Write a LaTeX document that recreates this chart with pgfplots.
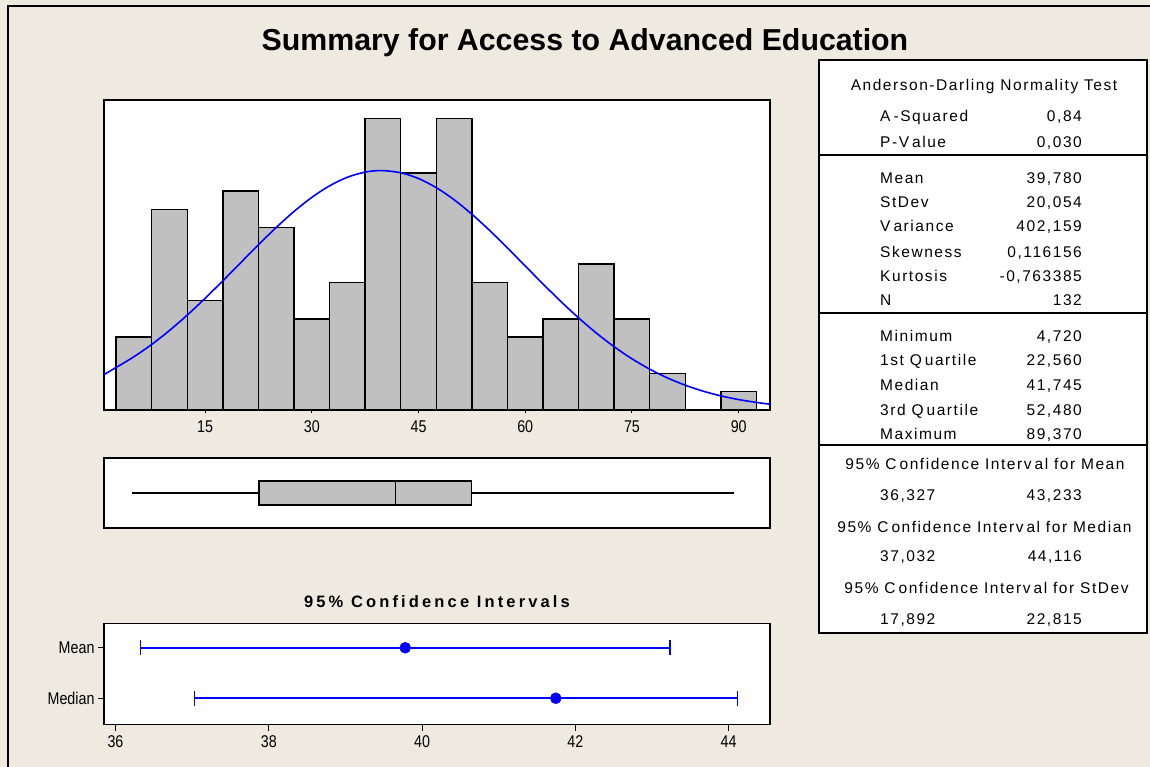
\documentclass[border=0pt]{standalone}
\usepackage{pgfplots}
\pgfplotsset{compat=1.18}
\usepackage{pgfplotstable}
\usepgfplotslibrary{statistics}
\usepackage{fontspec}
\setmainfont{Liberation Sans}
\newfontfamily\narrowfont[FakeStretch=0.84]{Liberation Sans}
\newfontfamily\spacedfont[LetterSpace=10]{Liberation Sans}
\newfontfamily\widefont[LetterSpace=19]{Liberation Sans}
\definecolor{bgbeige}{RGB}{238,234,224}
\definecolor{bargray}{RGB}{192,192,192}
\pgfdeclareplotmark{bigbar}{%
  \pgfpathmoveto{\pgfqpoint{0pt}{-7.5pt}}%
  \pgfpathlineto{\pgfqpoint{0pt}{7.5pt}}%
  \pgfusepathqstroke}

\pgfplotstableread{
x count
5 4
10 11
15 6
20 12
25 10
30 5
35 7
40 16
45 13
50 16
55 7
60 4
65 5
70 8
75 5
80 2
90 1
}\histdata

\pgfplotstableread{
x f
0.8 1.94
2.5 2.332
5 2.919
7.5 3.595
10 4.359
12.5 5.205
15 6.120
17.5 7.084
20 8.072
22.5 9.058
25 10.008
27.5 10.885
30 11.658
32.5 12.292
35 12.762
37.5 13.045
39.78 13.13
42.5 13.01
45 12.693
47.5 12.193
50 11.531
52.5 10.736
55 9.845
57.5 8.886
60 7.898
62.5 6.912
65 5.955
67.5 5.051
70 4.219
72.5 3.469
75 2.808
77.5 2.239
80 1.757
82.5 1.358
85 1.033
87.5 0.774
90 0.571
92.5 0.415
94.4 0.318
}\curvedata

\begin{document}
\begin{tikzpicture}
\useasboundingbox (0pt,0pt) rectangle (1150pt,-767pt);
\fill[bgbeige] (0pt,0pt) rectangle (1150pt,-767pt);
\draw[line width=2pt] (7.5pt,-767pt) -- (7.5pt,-6pt) -- (1150pt,-6pt);

\node[font=\fontsize{30.3}{30.3}\selectfont\bfseries] at (585pt,-43pt) {Summary for Access to Advanced Education};

% Histogram
\begin{axis}[at={(104pt,-410pt)}, anchor=south west, scale only axis,
  width=666pt, height=310pt,
  xmin=0.8, xmax=94.4, ymin=0, ymax=17,
  axis background/.style={fill=white},
  axis line style={line width=1.4pt},
  xtick={15,30,45,60,75,90}, ytick=\empty,
  xtick pos=left, tick align=outside, major tick length=3pt,
  tick style={line width=1pt, black},
  /pgf/number format/assume math mode=true,
  ticklabel style={font=\narrowfont\fontsize{17}{17}\selectfont},
  xticklabel style={yshift=-4pt}]
\addplot[ybar, bar width=5, bar shift=0pt, fill=bargray, draw=black, line width=1.4pt]
  table[x=x, y=count] {\histdata};
\addplot[blue, line width=1.6pt, smooth, no marks] table[x=x, y=f] {\curvedata};
\end{axis}

% Boxplot
\begin{axis}[at={(104pt,-528pt)}, anchor=south west, scale only axis,
  width=666pt, height=70pt,
  xmin=0.8, xmax=94.4, ymin=0, ymax=2,
  axis background/.style={fill=white},
  axis line style={line width=1.4pt},
  ticks=none]
\addplot[boxplot prepared={lower whisker=4.72, lower quartile=22.56, median=41.745,
  upper quartile=52.48, upper whisker=89.37, draw position=1, box extend=0.69,
  whisker extend=0}, draw=black, fill=bargray, line width=1.4pt, solid] coordinates {};
\end{axis}

% Confidence intervals
\begin{axis}[at={(104pt,-724.5pt)}, anchor=south west, scale only axis,
  width=666pt, height=101pt,
  xmin=35.85, xmax=44.54, ymin=-0.52, ymax=1.48,
  axis background/.style={fill=white},
  axis line style={line width=1.4pt},
  xtick={36,38,40,42,44}, ytick={0,1}, yticklabels={Median,Mean},
  xtick pos=left, ytick pos=left, tick align=outside, major tick length=6pt,
  tick style={line width=1pt, black},
  /pgf/number format/assume math mode=true,
  ticklabel style={font=\narrowfont\fontsize{17}{17}\selectfont},
  xticklabel style={yshift=-2pt},
  title={95\% Confidence Intervals},
  title style={at={(0.5,1)}, anchor=base, yshift=10pt,
    font=\widefont\fontsize{16.5}{16.5}\selectfont\bfseries}]
\addplot[blue, line width=1.6pt, only marks, mark=*, mark size=5.5pt,
  mark options={line width=0.5pt},
  error bars/.cd, x dir=both, x explicit, error mark=bigbar,
  error bar style={line width=1.6pt, blue},
  error mark options={blue, line width=1.6pt}]
  coordinates {(39.78,1) -= (3.453,0) += (3.453,0)
               (41.745,0) -= (4.713,0) += (2.371,0)};
\end{axis}

% Statistics table
\draw[line width=1.4pt, fill=white] (819pt,-60pt) rectangle (1147pt,-633pt);
\draw[line width=1.4pt] (819pt,-155pt) -- (1147pt,-155pt);
\draw[line width=1.4pt] (819pt,-313pt) -- (1147pt,-313pt);
\draw[line width=1.4pt] (819pt,-445pt) -- (1147pt,-445pt);
\begin{scope}[every node/.style={font=\spacedfont\fontsize{15.5}{15.5}\selectfont, inner sep=0pt}]
\node[anchor=base] at (984pt,-91pt) {Anderson-Darling Normality Test};
\node[anchor=base west] at (880pt,-121.5pt) {A\kern3pt-Squared};
\node[anchor=base east] at (1082pt,-121.5pt) {0,84};
\node[anchor=base west] at (880pt,-147.5pt) {P-V\kern3pt alue};
\node[anchor=base east] at (1082pt,-147.5pt) {0,030};
\node[anchor=base west] at (880pt,-183.5pt) {Mean};
\node[anchor=base east] at (1082pt,-183.5pt) {39,780};
\node[anchor=base west] at (880pt,-207.5pt) {StDev};
\node[anchor=base east] at (1082pt,-207.5pt) {20,054};
\node[anchor=base west] at (880pt,-231.5pt) {V\kern3pt ariance};
\node[anchor=base east] at (1082pt,-231.5pt) {402,159};
\node[anchor=base west] at (880pt,-257.5pt) {Skewness};
\node[anchor=base east] at (1082pt,-257.5pt) {0,116156};
\node[anchor=base west] at (880pt,-281.5pt) {Kurtosis};
\node[anchor=base east] at (1082pt,-281.5pt) {-0,763385};
\node[anchor=base west] at (880pt,-305.5pt) {N};
\node[anchor=base east] at (1082pt,-305.5pt) {132};
\node[anchor=base west] at (880pt,-341.5pt) {Minimum};
\node[anchor=base east] at (1082pt,-341.5pt) {4,720};
\node[anchor=base west] at (880pt,-365.5pt) {1st Q\kern3pt uartile};
\node[anchor=base east] at (1082pt,-365.5pt) {22,560};
\node[anchor=base west] at (880pt,-390.5pt) {Median};
\node[anchor=base east] at (1082pt,-390.5pt) {41,745};
\node[anchor=base west] at (880pt,-415.5pt) {3rd Q\kern3pt uartile};
\node[anchor=base east] at (1082pt,-415.5pt) {52,480};
\node[anchor=base west] at (880pt,-439.5pt) {Maximum};
\node[anchor=base east] at (1082pt,-439.5pt) {89,370};
\node[anchor=base] at (985pt,-469.5pt) {95\%  C\kern3pt onfidence Interv\kern3pt al for Mean};
\node[anchor=base west] at (880pt,-500.5pt) {36,327};
\node[anchor=base east] at (1082pt,-500.5pt) {43,233};
\node[anchor=base] at (984.5pt,-532.5pt) {95\%  C\kern3pt onfidence Interv\kern3pt al for Median};
\node[anchor=base west] at (880pt,-561.5pt) {37,032};
\node[anchor=base east] at (1082pt,-561.5pt) {44,116};
\node[anchor=base] at (986.5pt,-593.5pt) {95\%  C\kern3pt onfidence Interv\kern3pt al for StDev};
\node[anchor=base west] at (880pt,-624.5pt) {17,892};
\node[anchor=base east] at (1082pt,-624.5pt) {22,815};
\end{scope}
\end{tikzpicture}
\end{document}
